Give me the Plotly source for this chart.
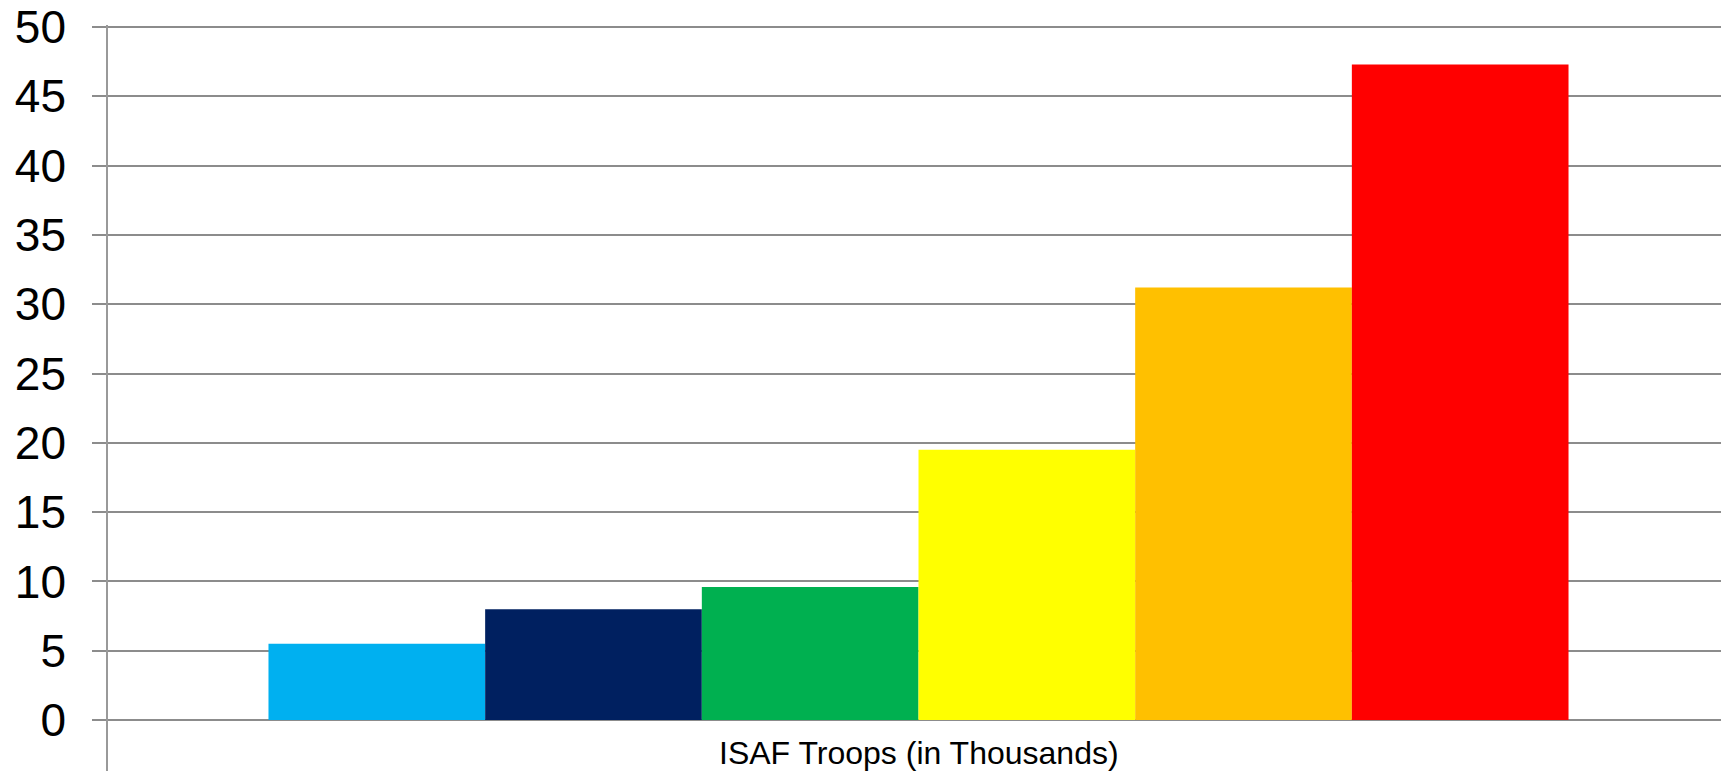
import plotly.graph_objects as go

category = ["ISAF Troops (in Thousands)"]
series_names = ["Series 1", "Series 2", "Series 3", "Series 4", "Series 5", "Series 6"]
series_values = [5.5, 8.0, 9.6, 19.5, 31.2, 47.3]
series_colors = ["#00B0F0", "#002060", "#00B050", "#FFFF00", "#FFC000", "#FF0000"]
y_ticks = [0, 5, 10, 15, 20, 25, 30, 35, 40, 45, 50]

fig = go.Figure()
for name, val, col in zip(series_names, series_values, series_colors):
    fig.add_trace(go.Bar(
        x=category, y=[val], name=name,
        marker=dict(color=col, line=dict(width=0)),
        hoverinfo="skip",
    ))

fig.update_layout(
    width=1721, height=763,
    margin=dict(l=100, r=0, t=17, b=0, pad=0, autoexpand=False),
    paper_bgcolor="white", plot_bgcolor="white",
    barmode="group", bargap=0.198, bargroupgap=0,
    showlegend=False,
    font=dict(family="Liberation Sans, Arial, sans-serif", color="black"),
)
fig.update_xaxes(
    showticklabels=False, showgrid=False, zeroline=False, showline=False,
    ticks="", range=[-0.5, 0.5], automargin=False,
)
fig.update_yaxes(
    range=[-3.68, 50.15], tickvals=y_ticks, ticktext=[str(v) for v in y_ticks],
    showgrid=True, gridcolor="#8c8c8c", gridwidth=1.6,
    zeroline=False, automargin=False,
    showline=True, linecolor="#999999", linewidth=1.6,
    ticks="outside", ticklen=14, tickcolor="#8c8c8c", tickwidth=1.6,
    tickfont=dict(size=46, color="black", family="Liberation Sans, Arial, sans-serif"),
    ticklabelstandoff=17, ticklabeloverflow="allow",
)
fig.add_annotation(
    x=category[0], xref="x", y=0.024, yref="paper",
    text=category[0], showarrow=False, yanchor="middle", xanchor="center",
    font=dict(size=32, color="black", family="Liberation Sans, Arial, sans-serif"),
)

fig.write_html("out.html")
